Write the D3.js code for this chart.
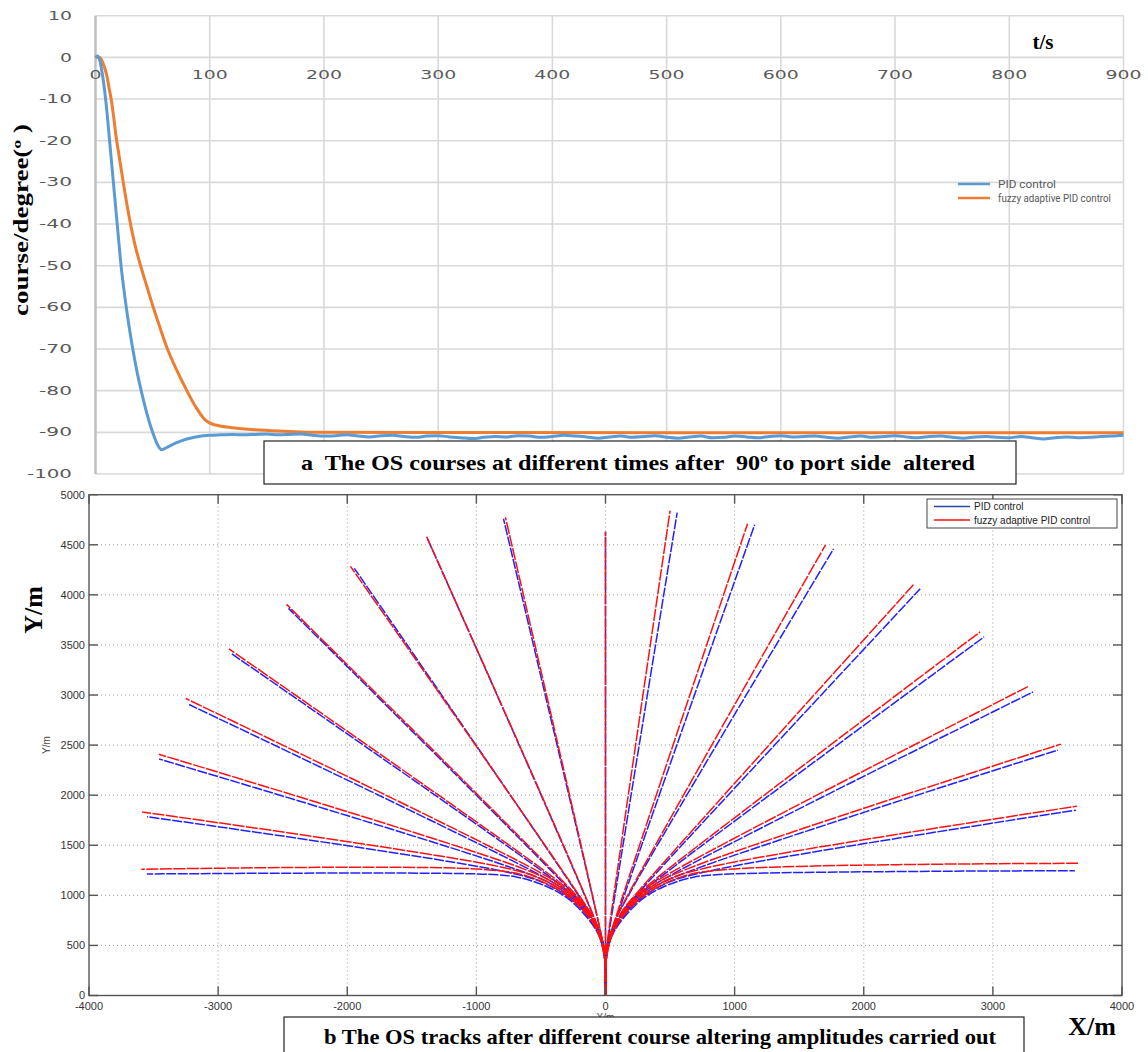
<!DOCTYPE html>
<html>
<head>
<meta charset="utf-8">
<script src="https://d3js.org/d3.v7.min.js"></script>
<style>
body { margin: 0; background: #fff; }
svg { display: block; }
</style>
</head>
<body>
<div id="chart"></div>
<script>

// ---- top chart: course vs time ----
var topXTicks = [0, 100, 200, 300, 400, 500, 600, 700, 800, 900];
var topYTicks = [10, 0, -10, -20, -30, -40, -50, -60, -70, -80, -90, -100];

var pidTime = [0, 2, 4, 6, 8, 10, 12, 14, 16, 18, 20, 22, 25, 28, 32, 36, 40, 45, 50, 54, 58, 62, 70, 80, 90,
  100, 110, 120, 130, 140, 150, 160, 170, 180, 190, 200, 210, 220, 230, 240, 250, 260, 270, 280, 290,
  300, 310, 320, 330, 340, 350, 360, 370, 380, 390, 400, 410, 420, 430, 440, 450, 460, 470, 480, 490,
  500, 510, 520, 530, 540, 550, 560, 570, 580, 590, 600, 610, 620, 630, 640, 650, 660, 670, 680, 690,
  700, 710, 720, 730, 740, 750, 760, 770, 780, 790, 800, 810, 820, 830, 840, 850, 860, 870, 880, 890, 900];
var pidCourse = [0, 0.3, -1, -4, -8, -13, -19, -25, -31, -37, -43, -49, -56, -62, -69, -75, -80, -85.5, -90, -92.8, -94.2, -93.7, -92.6, -91.6, -91.0,
  -90.7, -90.6, -90.5, -90.6, -90.5, -90.4, -90.6, -90.5, -90.4, -90.7, -90.9, -90.8, -90.6, -90.9, -91.1, -90.8, -90.7, -91.0, -91.2, -90.9,
  -90.8, -91.1, -91.3, -91.5, -91.2, -91.0, -91.1, -90.8, -90.9, -91.2, -91.0, -90.7, -90.9, -91.1, -91.4, -91.1, -90.9, -91.2, -91.0, -90.8,
  -91.2, -91.4, -91.1, -90.9, -91.3, -91.2, -90.9, -91.1, -91.3, -91.0, -90.8, -91.1, -91.0, -90.9, -91.2, -91.4, -91.1, -90.9, -91.2, -91.0,
  -90.8, -91.1, -91.3, -91.0, -90.9, -91.2, -91.4, -91.1, -91.0, -91.2, -91.3, -91.0, -91.3, -91.6, -91.3, -91.1, -91.3, -91.2, -91.0, -90.9, -90.7];

var fuzzyTime = [0, 3, 6, 8, 10, 12, 14, 16, 18, 20, 22, 24, 27, 31, 35, 40, 45, 50, 56, 63, 71, 80, 88, 96, 102, 108, 120, 140, 160, 180, 200, 300, 500, 700, 900];
var fuzzyCourse = [0, 0, -1, -2.5, -4.5, -7.5, -10.5, -14.5, -19, -22.5, -26, -29.5, -34.5, -40.5, -45.5, -50.5, -55, -59.5, -64.5, -70, -75, -80, -84, -87, -88, -88.4, -88.9, -89.4, -89.7, -89.9, -90, -90.05, -90.1, -90.1, -90.1];

// ---- bottom chart: tracks (x, y in metres) ----
var trackXTicks = [-4000, -3000, -2000, -1000, 0, 1000, 2000, 3000, 4000];
var trackYTicks = [0, 500, 1000, 1500, 2000, 2500, 3000, 3500, 4000, 4500, 5000];

var pidTracks = [
  [[0,0],[0,300],[-5,413],[-20,526],[-790,4760]],
  [[0,0],[0,300],[-16,501],[-65,697],[-1380,4565]],
  [[0,0],[0,300],[-9,444],[-34,585],[-77,722],[-136,854],[-1945,4265]],
  [[0,0],[0,300],[-15,485],[-59,665],[-132,835],[-232,992],[-2455,3865]],
  [[0,0],[0,300],[-23,524],[-91,739],[-202,935],[-350,1105],[-2893,3410]],
  [[0,0],[0,300],[-32,559],[-127,801],[-279,1013],[-478,1181],[-3225,2905]],
  [[0,0],[0,300],[-42,588],[-166,852],[-361,1069],[-609,1221],[-3457,2361]],
  [[0,0],[0,300],[-55,617],[-212,898],[-454,1110],[-752,1229],[-3550,1785]],
  [[0,0],[0,300],[-55,611],[-267,943],[-455,1088],[-674,1179],[-910,1210],[-3552,1213]],
  [[0,0],[0,4630]],
  [[0,0],[0,300],[4,400],[14,510],[555,4820]],
  [[0,0],[0,300],[13,480],[50,640],[1155,4700]],
  [[0,0],[0,300],[8,436],[29,570],[62,700],[105,830],[1766,4459]],
  [[0,0],[0,300],[15,485],[59,665],[132,835],[232,992],[2437,4060]],
  [[0,0],[0,300],[23,524],[91,739],[202,935],[350,1105],[2932,3580]],
  [[0,0],[0,300],[32,559],[127,801],[279,1013],[478,1181],[3310,3030]],
  [[0,0],[0,300],[42,588],[166,852],[361,1069],[609,1221],[3504,2450]],
  [[0,0],[0,300],[55,617],[212,898],[454,1110],[752,1229],[3643,1850]],
  [[0,0],[0,300],[55,611],[267,943],[455,1088],[674,1179],[910,1210],[3635,1246]]
];

var fuzzyTracks = [
  [[0,0],[0,300],[-5,418],[-21,534],[-775,4775]],
  [[0,0],[0,300],[-17,509],[-67,712],[-1385,4580]],
  [[0,0],[0,300],[-9,450],[-36,597],[-80,740],[-141,877],[-1975,4285]],
  [[0,0],[0,300],[-16,493],[-62,681],[-138,859],[-242,1022],[-2470,3905]],
  [[0,0],[0,300],[-24,534],[-95,758],[-211,964],[-366,1141],[-2916,3460]],
  [[0,0],[0,300],[-34,571],[-133,825],[-292,1047],[-501,1223],[-3250,2965]],
  [[0,0],[0,300],[-45,603],[-174,880],[-379,1107],[-640,1267],[-3459,2408]],
  [[0,0],[0,300],[-57,634],[-223,929],[-478,1153],[-792,1278],[-3588,1832]],
  [[0,0],[0,300],[-73,667],[-281,979],[-593,1187],[-960,1260],[-3595,1260]],
  [[0,0],[0,4630]],
  [[0,0],[0,300],[3,400],[12,515],[500,4840]],
  [[0,0],[0,300],[13,490],[50,660],[1100,4710]],
  [[0,0],[0,300],[8,440],[30,580],[64,715],[110,850],[1704,4499]],
  [[0,0],[0,300],[16,493],[62,681],[138,859],[242,1022],[2391,4110]],
  [[0,0],[0,300],[24,534],[95,758],[211,964],[366,1141],[2901,3630]],
  [[0,0],[0,300],[34,571],[133,825],[292,1047],[501,1223],[3280,3090]],
  [[0,0],[0,300],[45,603],[174,880],[379,1107],[640,1267],[3527,2510]],
  [[0,0],[0,300],[57,634],[223,929],[478,1153],[792,1278],[3651,1890]],
  [[0,0],[0,300],[73,667],[281,979],[593,1187],[960,1260],[3660,1320]]
];

var W = 1148, H = 1052;
var svg = d3.select("#chart").append("svg")
  .attr("width", W)
  .attr("height", H);

// ================= top chart =================
var xTop = d3.scaleLinear().domain([0, 900]).range([95.5, 1123.5]);
var yTop = d3.scaleLinear().domain([-100, 10]).range([474, 15.7]);

var gTop = svg.append("g");

// horizontal grid
gTop.selectAll("line.hg").data(topYTicks).enter().append("line")
  .attr("x1", xTop(0)).attr("x2", xTop(900))
  .attr("y1", function(d) { return yTop(d); })
  .attr("y2", function(d) { return yTop(d); })
  .attr("stroke", "#d9d9d9").attr("stroke-width", 1.6);

// vertical grid
gTop.selectAll("line.vg").data(topXTicks.slice(1)).enter().append("line")
  .attr("x1", function(d) { return xTop(d); })
  .attr("x2", function(d) { return xTop(d); })
  .attr("y1", yTop(10)).attr("y2", yTop(-100))
  .attr("stroke", "#d9d9d9").attr("stroke-width", 1.6);

// vertical axis line
gTop.append("line")
  .attr("x1", xTop(0)).attr("x2", xTop(0))
  .attr("y1", yTop(10)).attr("y2", yTop(-100))
  .attr("stroke", "#bfbfbf").attr("stroke-width", 2.5);

// tick labels (wide, stretched digits like the original)
function digitLen(s) {
  var n = 0;
  for (var i = 0; i < s.length; i++) n += (s[i] === "-") ? 9 : 12;
  return n;
}
gTop.selectAll("text.yl").data(topYTicks).enter().append("text")
  .attr("x", 72)
  .attr("y", function(d) { return yTop(d); })
  .attr("dy", "0.36em")
  .attr("text-anchor", "end")
  .attr("font-family", "DejaVu Sans")
  .attr("font-size", 11.5)
  .attr("fill", "#595959")
  .attr("textLength", function(d) { return digitLen(String(d)); })
  .attr("lengthAdjust", "spacingAndGlyphs")
  .text(function(d) { return d; });

gTop.selectAll("text.xl").data(topXTicks).enter().append("text")
  .attr("x", function(d) { return xTop(d); })
  .attr("y", 75)
  .attr("dy", "0.36em")
  .attr("text-anchor", "middle")
  .attr("font-family", "DejaVu Sans")
  .attr("font-size", 11.5)
  .attr("fill", "#595959")
  .attr("textLength", function(d) { return digitLen(String(d)); })
  .attr("lengthAdjust", "spacingAndGlyphs")
  .text(function(d) { return d; });

// course lines
var lineTop = d3.line()
  .x(function(d) { return xTop(d[0]); })
  .y(function(d) { return yTop(d[1]); })
  .curve(d3.curveMonotoneX);

gTop.append("path")
  .datum(d3.zip(fuzzyTime, fuzzyCourse))
  .attr("d", lineTop)
  .attr("fill", "none")
  .attr("stroke", "#ed7d31")
  .attr("stroke-width", 3);

gTop.append("path")
  .datum(d3.zip(pidTime, pidCourse))
  .attr("d", lineTop)
  .attr("fill", "none")
  .attr("stroke", "#5b9bd5")
  .attr("stroke-width", 3);

// legend
var topLegend = [["PID control", "#5b9bd5", 58], ["fuzzy adaptive PID control", "#ed7d31", 113]];
var tl = gTop.selectAll("g.tl").data(topLegend).enter().append("g")
  .attr("transform", function(d, i) { return "translate(958," + (184 + i * 14) + ")"; });
tl.append("line").attr("x1", 0).attr("x2", 32).attr("y1", 0).attr("y2", 0)
  .attr("stroke", function(d) { return d[1]; }).attr("stroke-width", 2.5);
tl.append("text").attr("x", 40).attr("dy", "0.35em")
  .attr("font-family", "Roboto, sans-serif")
  .attr("font-size", 11.5).attr("fill", "#595959")
  .attr("textLength", function(d) { return d[2]; })
  .attr("lengthAdjust", "spacingAndGlyphs")
  .text(function(d) { return d[0]; });

// axis titles
svg.append("text")
  .attr("transform", "translate(28,220) rotate(-90)")
  .attr("text-anchor", "middle")
  .attr("font-family", "Liberation Serif")
  .attr("font-weight", "bold")
  .attr("font-size", 20)
  .attr("textLength", 192)
  .attr("lengthAdjust", "spacingAndGlyphs")
  .text("course/degree(º )");

svg.append("text")
  .attr("x", 1043).attr("y", 49)
  .attr("text-anchor", "middle")
  .attr("font-family", "Liberation Serif")
  .attr("font-weight", "bold")
  .attr("font-size", 21)
  .text("t/s");

// caption a
svg.append("rect")
  .attr("x", 264).attr("y", 441).attr("width", 752).attr("height", 43)
  .attr("fill", "#fff").attr("stroke", "#222").attr("stroke-width", 1.2);
svg.append("text")
  .attr("x", 638).attr("y", 470)
  .attr("text-anchor", "middle")
  .attr("font-family", "Liberation Serif")
  .attr("font-weight", "bold")
  .attr("font-size", 21)
  .attr("textLength", 674)
  .attr("lengthAdjust", "spacingAndGlyphs")
  .style("white-space", "pre")
  .text("a  The OS courses at different times after  90º to port side  altered");

// ================= bottom chart =================
var xB = d3.scaleLinear().domain([-4000, 4000]).range([89, 1122]);
var yB = d3.scaleLinear().domain([0, 5000]).range([995.5, 494.7]);

var gB = svg.append("g");

// dotted grid
gB.selectAll("line.bvg").data(trackXTicks.slice(1, -1)).enter().append("line")
  .attr("x1", function(d) { return xB(d); }).attr("x2", function(d) { return xB(d); })
  .attr("y1", yB(0)).attr("y2", yB(5000))
  .attr("stroke", "#9a9a9a").attr("stroke-width", 1).attr("stroke-dasharray", "1,3");
gB.selectAll("line.bhg").data(trackYTicks.slice(1, -1)).enter().append("line")
  .attr("x1", xB(-4000)).attr("x2", xB(4000))
  .attr("y1", function(d) { return yB(d); }).attr("y2", function(d) { return yB(d); })
  .attr("stroke", "#9a9a9a").attr("stroke-width", 1).attr("stroke-dasharray", "1,3");

// tracks
var lineB = d3.line()
  .x(function(d) { return xB(d[0]); })
  .y(function(d) { return yB(d[1]); })
  .curve(d3.curveCatmullRom.alpha(0.5));

gB.selectAll("path.pid").data(pidTracks).enter().append("path")
  .attr("d", lineB)
  .attr("fill", "none")
  .attr("stroke", "#2020ff")
  .attr("stroke-width", 1.5)
  .attr("stroke-dasharray", "10,1.5");

gB.selectAll("path.fuzzy").data(fuzzyTracks).enter().append("path")
  .attr("d", lineB)
  .attr("fill", "none")
  .attr("stroke", "#ff1010")
  .attr("stroke-width", 1.5)
  .attr("stroke-dasharray", "12,1.5");

// box
gB.append("rect")
  .attr("x", xB(-4000)).attr("y", yB(5000))
  .attr("width", xB(4000) - xB(-4000)).attr("height", yB(0) - yB(5000))
  .attr("fill", "none").attr("stroke", "#555").attr("stroke-width", 1.4);

// inward ticks
var tk = 9;
gB.selectAll("line.tl").data(trackYTicks).enter().append("line")
  .attr("x1", xB(-4000)).attr("x2", xB(-4000) + tk)
  .attr("y1", function(d) { return yB(d); }).attr("y2", function(d) { return yB(d); })
  .attr("stroke", "#555").attr("stroke-width", 1.4);
gB.selectAll("line.tr").data(trackYTicks).enter().append("line")
  .attr("x1", xB(4000)).attr("x2", xB(4000) - tk)
  .attr("y1", function(d) { return yB(d); }).attr("y2", function(d) { return yB(d); })
  .attr("stroke", "#555").attr("stroke-width", 1.4);
gB.selectAll("line.tb").data(trackXTicks).enter().append("line")
  .attr("x1", function(d) { return xB(d); }).attr("x2", function(d) { return xB(d); })
  .attr("y1", yB(0)).attr("y2", yB(0) - tk)
  .attr("stroke", "#555").attr("stroke-width", 1.4);
gB.selectAll("line.tt").data(trackXTicks).enter().append("line")
  .attr("x1", function(d) { return xB(d); }).attr("x2", function(d) { return xB(d); })
  .attr("y1", yB(5000)).attr("y2", yB(5000) + tk)
  .attr("stroke", "#555").attr("stroke-width", 1.4);

// tick labels
gB.selectAll("text.byl").data(trackYTicks).enter().append("text")
  .attr("x", 85)
  .attr("y", function(d) { return yB(d); })
  .attr("dy", "0.35em")
  .attr("text-anchor", "end")
  .attr("font-family", "Liberation Sans")
  .attr("font-size", 11)
  .attr("fill", "#333")
  .text(function(d) { return d; });
gB.selectAll("text.bxl").data(trackXTicks).enter().append("text")
  .attr("x", function(d) { return xB(d); })
  .attr("y", 1006)
  .attr("dy", "0.35em")
  .attr("text-anchor", "middle")
  .attr("font-family", "Liberation Sans")
  .attr("font-size", 11)
  .attr("fill", "#333")
  .text(function(d) { return d; });

// small matlab axis labels
svg.append("text")
  .attr("transform", "translate(50,745) rotate(-90)")
  .attr("text-anchor", "middle")
  .attr("font-family", "Liberation Sans").attr("font-size", 10).attr("fill", "#444")
  .text("Y/m");
svg.append("text")
  .attr("x", xB(0)).attr("y", 1021)
  .attr("text-anchor", "middle")
  .attr("font-family", "Liberation Sans").attr("font-size", 10).attr("fill", "#444")
  .text("X/m");

// legend
var bLegend = [["PID control", "#2a44a8"], ["fuzzy adaptive PID control", "#ff1010"]];
gB.append("rect")
  .attr("x", 927).attr("y", 499).attr("width", 190).attr("height", 29)
  .attr("fill", "#fff").attr("stroke", "#444").attr("stroke-width", 1);
var bl = gB.selectAll("g.bl").data(bLegend).enter().append("g")
  .attr("transform", function(d, i) { return "translate(934," + (506.5 + i * 13.5) + ")"; });
bl.append("line").attr("x1", 0).attr("x2", 36)
  .attr("stroke", function(d) { return d[1]; }).attr("stroke-width", 1.6);
bl.append("text").attr("x", 40).attr("dy", "0.35em")
  .attr("font-family", "Liberation Sans").attr("font-size", 10).attr("fill", "#222")
  .text(function(d) { return d[0]; });

// big axis titles
svg.append("text")
  .attr("transform", "translate(42,610) rotate(-90)")
  .attr("text-anchor", "middle")
  .attr("font-family", "Liberation Serif").attr("font-weight", "bold").attr("font-size", 26)
  .text("Y/m");
svg.append("text")
  .attr("x", 1092).attr("y", 1035)
  .attr("text-anchor", "middle")
  .attr("font-family", "Liberation Serif").attr("font-weight", "bold").attr("font-size", 26)
  .text("X/m");

// caption b
svg.append("rect")
  .attr("x", 284).attr("y", 1017).attr("width", 740).attr("height", 50)
  .attr("fill", "#fff").attr("stroke", "#222").attr("stroke-width", 1.2);
svg.append("text")
  .attr("x", 660).attr("y", 1044)
  .attr("text-anchor", "middle")
  .attr("font-family", "Liberation Serif")
  .attr("font-weight", "bold")
  .attr("font-size", 22)
  .attr("textLength", 672)
  .attr("lengthAdjust", "spacingAndGlyphs")
  .text("b The OS tracks after different course altering amplitudes carried out");

</script>
</body>
</html>
